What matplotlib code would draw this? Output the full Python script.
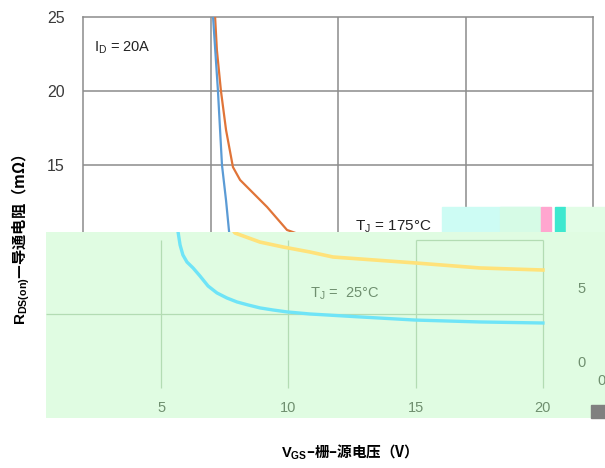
import matplotlib
matplotlib.use("Agg")
import matplotlib.pyplot as plt
from matplotlib.patches import Rectangle

plt.rcParams['font.family'] = ['Liberation Sans', 'Noto Sans CJK SC', 'DejaVu Sans']
plt.rcParams['mathtext.fontset'] = 'custom'
plt.rcParams['mathtext.rm'] = 'Liberation Sans'
plt.rcParams['mathtext.bf'] = 'Liberation Sans:bold'

# ---- data (upper chart) ----
vgs_175 = [5.18, 5.25, 5.41, 5.61, 5.88, 6.16, 6.67, 7.22, 8.0, 9.0, 10.0, 15.0, 20.0]
rds_175 = [25.0, 22.77, 20.0, 17.36, 14.86, 13.99, 13.11, 12.16, 10.61, 10.0, 9.6, 8.6, 8.2]
vgs_25 = [5.10, 5.29, 5.45, 5.61, 5.73, 5.96, 6.5, 10.0, 20.0]
rds_25 = [25.0, 20.07, 15.0, 12.6, 10.47, 8.6, 7.6, 6.5, 5.8]
top_yticks = [15, 20, 25]
top_grid_x = [5, 10, 15]
top_grid_y = [5, 10, 15, 20]

# ---- data (overlaid green panel) ----
vgs_cyan = [5.66, 5.74, 5.85, 6.01, 6.25, 6.52, 6.84, 7.19, 7.58, 7.98, 8.41, 8.88,
            9.39, 9.94, 10.84, 12.81, 14.97, 17.52, 20.0]
rds_cyan = [10.54, 9.66, 8.99, 8.51, 8.11, 7.57, 6.89, 6.42, 6.08, 5.81, 5.61, 5.41,
            5.27, 5.14, 5.0, 4.80, 4.59, 4.46, 4.39]
vgs_yellow = [7.6, 7.90, 8.88, 9.78, 10.84, 11.75, 14.97, 17.52, 20.0]
rds_yellow = [11.2, 10.47, 9.86, 9.53, 9.19, 8.85, 8.45, 8.11, 7.97]
panel_xticks = [5, 10, 15, 20]
panel_xlabels = ['5', '10', '15', '20']
panel_rticks = [0, 5]

W, H = 605, 468
fig = plt.figure(figsize=(W / 100, H / 100), dpi=100)

def fx(px):
    return px / W

def fy(py):
    return 1 - py / H

# upper chart
ax = fig.add_axes([fx(83), fy(387), fx(593) - fx(83), fy(17) - fy(387)])
ax.set_xlim(0, 20)
ax.set_ylim(0, 25)
for v in top_grid_x:
    ax.axvline(v, color='#8c8c8c', lw=1.1, zorder=1)
for r in top_grid_y:
    ax.axhline(r, color='#8c8c8c', lw=1.1, zorder=1)
for s in ax.spines.values():
    s.set_color('#8c8c8c')
    s.set_linewidth(1.1)
ax.plot(vgs_175, rds_175, color='#e07438', lw=1.6, zorder=3)
ax.plot(vgs_25, rds_25, color='#5b9bd5', lw=1.6, zorder=3)
ax.set_xticks([])
ax.set_yticks(top_yticks)
ax.set_yticklabels([str(t) for t in top_yticks], fontsize=11.5, color='#3a3a3a')
ax.tick_params(axis='y', length=0, pad=13)
ax.text(0.45, 22.9, r'I$_\mathregular{D}$ = 20A', fontsize=10.5, color='#222222', va='center')
ax.text(10.65, 10.85, r'T$_\mathregular{J}$ = 175°C', fontsize=11, color='#222222', va='center')

# glitch strips near the join
glitch = [(442, 207, 98, 25, '#cdfcf4'), (500, 207, 40, 25, '#d6fbe6'),
          (541, 207, 10, 25, '#ffa6cf'), (555, 207, 10, 25, '#3ee8cf'),
          (566, 207, 39, 25, '#e2fde6')]
for x0, y0, w, h, c in glitch:
    fig.add_artist(Rectangle((fx(x0), fy(y0 + h)), w / W, h / H,
                             transform=fig.transFigure, color=c, zorder=2))

# overlaid green panel
gx = fig.add_axes([fx(46), fy(418), fx(605) - fx(46), fy(232) - fy(418)], zorder=5)
gx.set_facecolor('#e0fce2')
gx.set_xlim(0.47, 22.44)
gx.set_ylim(-2.03, 10.54)
for s in gx.spines.values():
    s.set_visible(False)
gx.vlines(panel_xticks, 0, 10, color='#b3dcb3', lw=0.9, zorder=1)
gx.hlines(5, 0.47, 20, color='#b3dcb3', lw=0.9, zorder=1)
gx.hlines(10, 15, 20, color='#b3dcb3', lw=0.9, zorder=1)
gx.plot(vgs_yellow, rds_yellow, color='#ffe27a', lw=2.6, zorder=3)
gx.plot(vgs_cyan, rds_cyan, color='#6fe4f7', lw=2.4, zorder=3)
gx.set_xticks(panel_xticks)
gx.set_xticklabels(panel_xlabels, fontsize=10.5, color='#6f8f6f')
gx.tick_params(axis='x', length=0, pad=-12)
gx.set_yticks([])
gx.text(10.85, 6.4, r'T$_\mathregular{J}$ =  25°C', fontsize=10.5, color='#6f8f6f', va='center')

tw = gx.twinx()
tw.set_ylim(-2.03 - 1.76, 10.54 - 1.76)
tw.set_yticks(panel_rticks)
tw.set_yticklabels([str(t) for t in panel_rticks], fontsize=10.5, color='#6f8f6f')
tw.tick_params(axis='y', length=0, pad=-20)
for s in tw.spines.values():
    s.set_visible(False)

fig.text(fx(597), fy(381), '0', fontsize=10.5, color='#6f8f6f', va='center', zorder=6)
fig.add_artist(Rectangle((fx(591), fy(418)), 14 / W, 13 / H, transform=fig.transFigure,
                         color='#808080', zorder=10))

# axis labels
fig.text(fx(21), fy(240), r'$\mathbf{R_{DS(on)}}$—导通电阻（mΩ）', rotation=90,
         fontsize=11, fontweight='bold', ha='center', va='center',
         family=['Noto Sans CJK SC', 'DejaVu Sans'])
fig.text(fx(346), fy(452), r'$\mathbf{V_{GS}}$–栅–源电压（V）', fontsize=10.5,
         fontweight='bold', ha='center', va='center',
         family=['Noto Sans CJK SC', 'DejaVu Sans'])

fig.savefig('out.png', dpi=100)
